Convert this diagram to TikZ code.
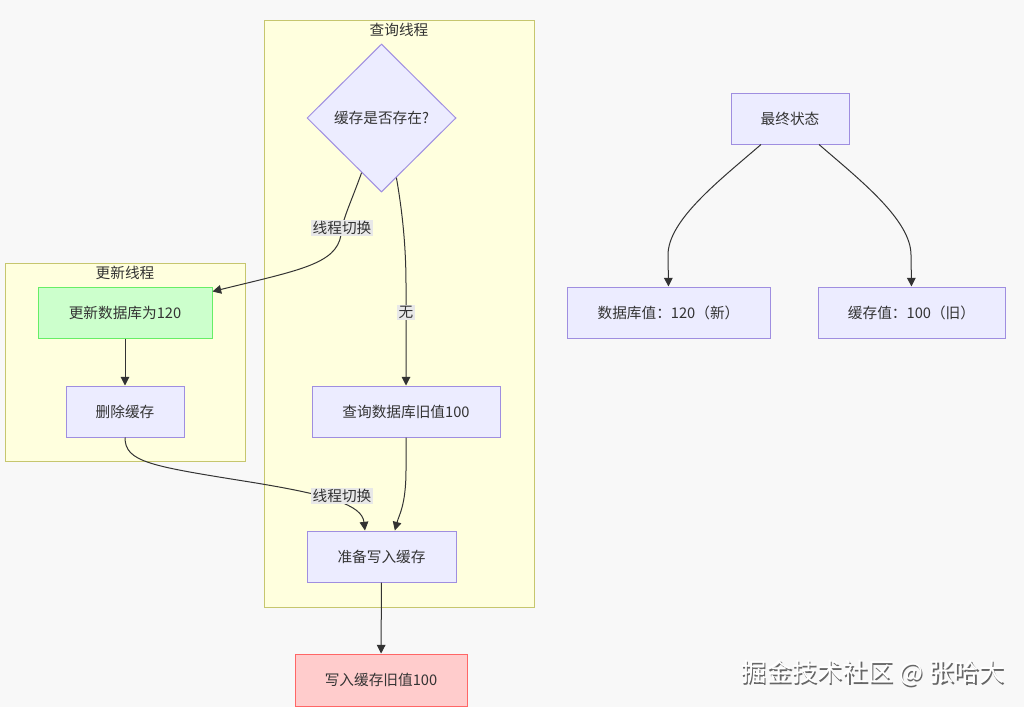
\documentclass[tikz,border=0pt]{standalone}
\usepackage{fontspec}
\setmainfont{Noto Sans CJK SC}
\usepackage{xcolor}
\usetikzlibrary{shapes.geometric,arrows.meta,positioning}
\definecolor{pagebg}{HTML}{F8F8F8}
\definecolor{clusterfill}{HTML}{FFFFDE}
\definecolor{clusterline}{HTML}{C6C66E}
\definecolor{nodefill}{HTML}{ECECFF}
\definecolor{nodeline}{HTML}{9F8EE0}
\definecolor{newfill}{HTML}{CCFFCC}
\definecolor{newline}{HTML}{66EE66}
\definecolor{oldfill}{HTML}{FFCCCC}
\definecolor{oldline}{HTML}{FF6666}
\definecolor{edgecol}{HTML}{333333}
\definecolor{labelbg}{HTML}{E8E8E8}
\tikzset{
    flow-box/.style = {draw=nodeline, fill=nodefill, line width=0.75pt, rectangle, inner sep=0pt, minimum height=38.25pt, text=edgecol, font=\fontsize{11pt}{13pt}\selectfont},
    new-box/.style = {flow-box, draw=newline, fill=newfill},
    old-box/.style = {flow-box, draw=oldline, fill=oldfill},
    decision-box/.style = {flow-box, diamond, aspect=1},
    cluster-box/.style = {draw=clusterline, fill=clusterfill, line width=0.75pt, rectangle, inner sep=0pt},
    cluster-title/.style = {inner sep=0pt, text=edgecol, font=\fontsize{11pt}{13pt}\selectfont},
    edge-label/.style = {fill=labelbg, inner sep=1pt, text=edgecol, font=\fontsize{11pt}{13pt}\selectfont},
    flow-arrow/.style = {draw=edgecol, line width=0.75pt, -{Triangle[length=6.5pt,width=6.5pt]}},
    watermark-text/.style = {inner sep=0pt, text=white, font=\fontsize{19pt}{21pt}\selectfont},
    watermark-shadow/.style = {watermark-text, text=black!60},
}

\begin{document}
\begin{tikzpicture}[x=0.75pt, y=-0.75pt]
\fill[pagebg] (0,0) rectangle (1024,707);
\useasboundingbox (0,0) rectangle (1024,707);

% thread groups
\node[cluster-box, minimum width=202.5pt, minimum height=440.25pt] (query) at (399,313.5) {};
\node[cluster-title, below=2.5pt] at (query.north) {查询线程};
\node[cluster-box, minimum width=180pt, minimum height=148.5pt] (update) at (125,362) {};
\node[cluster-title, below=2.5pt] at (update.north) {更新线程};

% steps
\node[decision-box, minimum width=111.75pt, minimum height=111pt] (check) at (381.5,118) {缓存是否存在?};
\node[new-box, minimum width=130.5pt] (updb) at (125,312.5) {更新数据库为120};
\node[flow-box, minimum width=88.5pt] (delcache) at (125,411.5) {删除缓存};
\node[flow-box, minimum width=141pt] (querydb) at (406,411.5) {查询数据库旧值100};
\node[flow-box, minimum width=111.75pt] (prepare) at (381.5,556.5) {准备写入缓存};
\node[old-box, minimum width=129pt, minimum height=39pt] (write) at (381,680) {写入缓存旧值100};

% final state
\node[flow-box, minimum width=88.5pt] (final) at (790,118.5) {最终状态};
\node[flow-box, minimum width=152.25pt] (dbvalue) at (668.5,312.5) {数据库值：120（新）};
\node[flow-box, minimum width=140.25pt] (cachevalue) at (911.5,312.5) {缓存值：100（旧）};

% edges
\draw[flow-arrow] (check.250) .. controls (350,205) and (342,220) .. (341,235) .. controls (336,264) and (300,270) .. ([yshift=-3.75pt]updb.north east);
\draw[flow-arrow] (check.284) .. controls (403,215) and (406,250) .. (406,285) -- node[edge-label, pos=0.27] {无} (querydb);
\draw[flow-arrow] (updb) -- (delcache);
\draw[flow-arrow] (delcache.south) .. controls (125,462) and (150,466) .. (250,482) .. controls (330,495) and (362,505) .. ([xshift=-12.4pt]prepare.north);
\draw[flow-arrow] (querydb.south) -- (406,470) .. controls (406,505) and (399,515) .. ([xshift=10pt]prepare.north);
\draw[flow-arrow] (prepare) -- (write);
\draw[flow-arrow] ([xshift=-21.75pt]final.south) .. controls (720,180) and (668,220) .. (668,255) -- (dbvalue.north);
\draw[flow-arrow] ([xshift=21.75pt]final.south) .. controls (860,180) and (911,220) .. (911,255) -- (cachevalue.north);

% labels over the thread switches
\node[edge-label] (switch1) at (342,228) {线程切换};
\node[edge-label] (switch2) at (342,496) {线程切换};

% watermark
\node[watermark-shadow] at (874.5,674.5) {掘金技术社区 @ 张哈大};
\node[watermark-text] (watermark) at (873,673) {掘金技术社区 @ 张哈大};
\end{tikzpicture}
\end{document}
